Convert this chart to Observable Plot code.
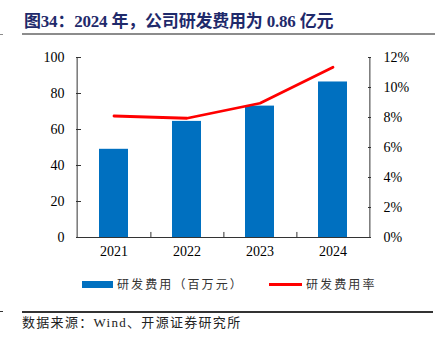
<!DOCTYPE html>
<html>
<head>
<meta charset="utf-8">
<script src="https://cdn.jsdelivr.net/npm/d3@7"></script>
<script src="https://cdn.jsdelivr.net/npm/@observablehq/plot@0.6"></script>
<style>
  body { margin: 0; background: #fff; }
  #wrap { position: relative; width: 435px; height: 343px; background: #fff; overflow: hidden; }
  .abs { position: absolute; white-space: nowrap; }
  #title { left: 24px; top: 10px; font-family: "Liberation Serif", "Noto Sans CJK SC", serif; font-weight: bold; font-size: 17px; color: #1f2a6b; line-height: 24px; letter-spacing: -0.2px; }
  #chart { position: absolute; left: 0; top: 40px; }
  .leg { font-family: "Noto Sans CJK SC", sans-serif; font-size: 12px; letter-spacing: 2.1px; color: #333; line-height: 16px; }
  #source { left: 22px; top: 315px; font-family: "Liberation Serif", "Noto Sans CJK SC", serif; font-size: 13px; letter-spacing: 1.3px; color: #222; line-height: 16px; }
</style>
</head>
<body>
<div id="wrap">
  <div class="abs" id="title">图34：2024 年，公司研发费用为 0.86 亿元</div>
  <div class="abs" style="left:22px;top:33px;width:413px;height:2px;background:#8c8c8c;"></div>
  <div class="abs" style="left:0;top:34px;width:3px;height:1px;background:#8c8c8c;"></div>
  <div id="chart"></div>
  <div class="abs" style="left:82px;top:281px;width:31px;height:7px;background:#0070c0;"></div>
  <div class="abs leg" id="leg1" style="left:117px;top:276px;"></div>
  <div class="abs" style="left:269px;top:283px;width:33px;height:3px;background:#ff0000;"></div>
  <div class="abs leg" id="leg2" style="left:306px;top:276px;"></div>
  <div class="abs" style="left:22px;top:311px;width:411px;height:1.5px;background:#333;"></div>
  <div class="abs" style="left:0;top:311px;width:3px;height:1px;background:#333;"></div>
  <div class="abs" id="source">数据来源：Wind、开源证券研究所</div>
</div>
<script>
const years = ["2021", "2022", "2023", "2024"];
const rdExpense = [49, 64.5, 73, 86.4];       // 研发费用（百万元）
const rdRate = [8.1, 7.95, 8.95, 11.35];      // 研发费用率 (%)
const leftTicks = [0, 20, 40, 60, 80, 100];
const rightTicks = [0, 2, 4, 6, 8, 10, 12];
const seriesNames = ["研发费用（百万元）", "研发费用率"];

const leftMax = 100, rateMax = 12;
const toLeft = r => r * leftMax / rateMax;
const data = years.map((y, i) => ({year: y, expense: rdExpense[i], rate: rdRate[i]}));

document.getElementById("leg1").textContent = seriesNames[0];
document.getElementById("leg2").textContent = seriesNames[1];

const W = 435, H = 222, mL = 76, mR = 64, mT = 17, mB = 25;
const plotW = W - mL - mR;
const step = plotW / years.length;
const axisColor = "#333";

const chart = Plot.plot({
  width: W, height: H,
  marginTop: mT, marginBottom: mB, marginLeft: mL, marginRight: mR,
  style: {fontFamily: "'Liberation Serif', serif", fontSize: "14px", color: "#000", background: "transparent", overflow: "visible"},
  x: {domain: years, paddingInner: 0.6, paddingOuter: 0.3, align: 0.5},
  y: {domain: [0, leftMax]},
  marks: [
    Plot.barY(data, {x: "year", y: "expense", fill: "#0070c0"}),
    Plot.lineY(data, {x: "year", y: d => toLeft(d.rate), stroke: "#ff0000", strokeWidth: 2.8}),
    // axis lines
    Plot.ruleY([0], {stroke: axisColor}),
    Plot.ruleX([years[0]], {x: d => d, dx: -step / 2, stroke: axisColor}),
    Plot.ruleX([years[years.length - 1]], {x: d => d, dx: step / 2, stroke: axisColor}),
    // inward tick marks
    Plot.ruleX(years.slice(0, years.length - 1), {x: d => d, dx: step / 2, y1: 0, y2: 2.8, stroke: axisColor}),
    Plot.ruleY(leftTicks, {insetRight: plotW - 5, stroke: axisColor}),
    Plot.ruleY(rightTicks.map(toLeft), {insetLeft: plotW - 3, stroke: axisColor}),
    Plot.axisY(leftTicks, {anchor: "left", tickSize: 0, tickPadding: 12, label: null, fill: "#000"}),
    Plot.axisY(rightTicks.map(toLeft), {anchor: "right", tickSize: 0, tickPadding: 12, label: null, fill: "#000",
      tickFormat: d => Math.round(d * rateMax / leftMax) + "%"}),
    Plot.axisX({tickSize: 0, tickPadding: 9, label: null, fill: "#000"})
  ]
});
document.getElementById("chart").appendChild(chart);
</script>
</body>
</html>
